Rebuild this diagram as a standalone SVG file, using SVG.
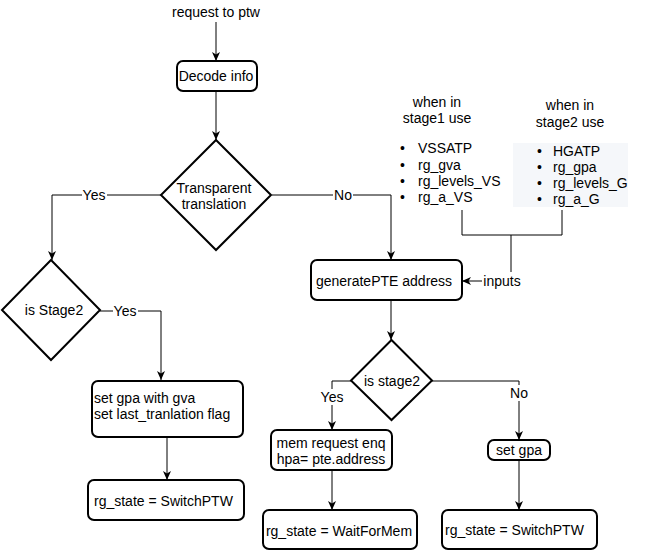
<svg xmlns="http://www.w3.org/2000/svg" width="662" height="552" viewBox="0 0 662 552">
<style>
text{font-family:"Liberation Sans",Arial,sans-serif;font-size:14px;fill:#000}
.c{text-anchor:middle}
.box{fill:#fff;stroke:#000;stroke-width:2}
.ln{fill:none;stroke:#000;stroke-width:1}
.lbl{fill:#fff}
</style>
<defs>
<marker id="arr" markerUnits="userSpaceOnUse" markerWidth="10" markerHeight="10" refX="9" refY="4.5" orient="auto">
<path d="M0,0.5 L9,4.5 L0,8.5 L2.5,4.5 z" fill="#000"/>
</marker>
</defs>
<rect width="662" height="552" fill="#fff"/>

<g id="connectors">
<path class="ln" d="M216,22 V61" marker-end="url(#arr)"/>
<path class="ln" d="M216,91 V140" marker-end="url(#arr)"/>
<path class="ln" d="M161,195 H52 V260" marker-end="url(#arr)"/>
<path class="ln" d="M272,195 H391 V260" marker-end="url(#arr)"/>
<path class="ln" d="M100,311 H161 V380" marker-end="url(#arr)"/>
<path class="ln" d="M167,437 V480" marker-end="url(#arr)"/>
<path class="ln" d="M391,300 V340" marker-end="url(#arr)"/>
<path class="ln" d="M351,381 H332 V430" marker-end="url(#arr)"/>
<path class="ln" d="M432,381 H519 V440" marker-end="url(#arr)"/>
<path class="ln" d="M332,470 V510" marker-end="url(#arr)"/>
<path class="ln" d="M519,460 V510" marker-end="url(#arr)"/>
<path class="ln" d="M462,210 V235 H562 V210 M511,235 V272"/>
<path class="ln" d="M483,281 H462" marker-end="url(#arr)"/>
<rect class="lbl" x="82" y="187" width="25" height="16"/>
<text class="c" x="94" y="200">Yes</text>
<rect class="lbl" x="333" y="187" width="20" height="16"/>
<text class="c" x="343" y="200">No</text>
<rect class="lbl" x="113" y="303" width="25" height="16"/>
<text class="c" x="125" y="316">Yes</text>
<rect class="lbl" x="320" y="389" width="25" height="16"/>
<text class="c" x="332" y="402">Yes</text>
<rect class="lbl" x="509" y="385" width="20" height="16"/>
<text class="c" x="519" y="398">No</text>
<rect class="lbl" x="482" y="273" width="40" height="16"/>
<text class="c" x="502" y="286">inputs</text>
</g>

<g id="request">
<text class="c" x="216" y="17">request to ptw</text>
</g>

<g id="decode">
<rect class="box" x="177" y="61" width="80" height="30" rx="6"/>
<text class="c" x="216" y="81">Decode info</text>
</g>

<g id="transparent">
<path class="box" d="M216,140 L271,195 L216,250 L161,195 z"/>
<text class="c" x="214" y="192.5">Transparent</text>
<text class="c" x="214" y="209">translation</text>
</g>

<g id="isStage2">
<path class="box" d="M51,260 L100,310 L51,360 L2,310 z"/>
<text class="c" x="54" y="315">is Stage2</text>
</g>

<g id="setgpagva">
<rect class="box" x="92" y="381" width="151" height="56" rx="6"/>
<text x="94" y="403">set gpa with gva</text>
<text x="94" y="419">set last_tranlation flag</text>
</g>

<g id="switch1">
<rect class="box" x="88" y="480" width="156" height="40" rx="6"/>
<text x="94" y="506">rg_state = SwitchPTW</text>
</g>

<g id="genpte">
<rect class="box" x="311" y="260" width="151" height="40" rx="6"/>
<text class="c" x="384" y="286">generatePTE address</text>
</g>

<g id="stage1use">
<text class="c" x="437" y="107">when in</text>
<text class="c" x="437" y="123">stage1 use</text>
<text x="400" y="153">•</text><text x="418" y="153">VSSATP</text>
<text x="400" y="170">•</text><text x="418" y="170">rg_gva</text>
<text x="400" y="186">•</text><text x="418" y="186">rg_levels_VS</text>
<text x="400" y="202">•</text><text x="418" y="202">rg_a_VS</text>
</g>

<g id="stage2use">
<text class="c" x="570" y="110">when in</text>
<text class="c" x="570" y="127">stage2 use</text>
<rect x="513" y="143" width="115" height="64" fill="#f5f7fa"/>
<text x="537" y="156">•</text><text x="553" y="156">HGATP</text>
<text x="537" y="172">•</text><text x="553" y="172">rg_gpa</text>
<text x="537" y="188">•</text><text x="553" y="188">rg_levels_G</text>
<text x="537" y="204">•</text><text x="553" y="204">rg_a_G</text>
</g>

<g id="isstage2b">
<path class="box" d="M391.5,340 L432,380.5 L391.5,420 L351,380.5 z"/>
<text class="c" x="392" y="386">is stage2</text>
</g>

<g id="memreq">
<rect class="box" x="271" y="430" width="121" height="40" rx="6"/>
<text class="c" x="331" y="447.5">mem request enq</text>
<text class="c" x="331" y="463.5">hpa= pte.address</text>
</g>

<g id="waitmem">
<rect class="box" x="263" y="510" width="154" height="39" rx="6"/>
<text class="c" x="339" y="536">rg_state = WaitForMem</text>
</g>

<g id="setgpa">
<rect class="box" x="488" y="440" width="62" height="20" rx="6"/>
<text class="c" x="519" y="455">set gpa</text>
</g>

<g id="switch2">
<rect class="box" x="442" y="510" width="155" height="39" rx="6"/>
<text x="445" y="535">rg_state = SwitchPTW</text>
</g>
</svg>
